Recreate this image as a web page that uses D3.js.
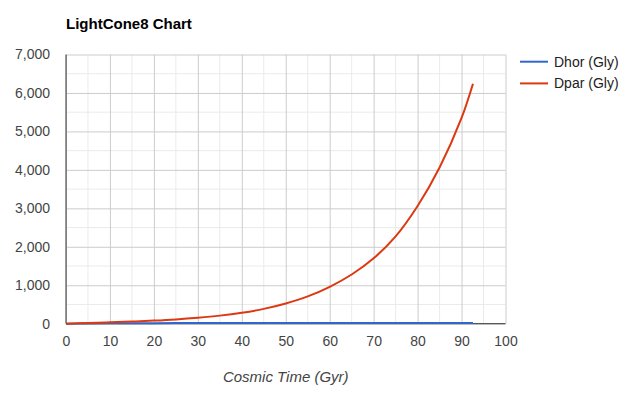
<!DOCTYPE html>
<html>
<head>
<meta charset="utf-8">
<script src="https://cdn.jsdelivr.net/npm/d3@7"></script>
<style>
  body { margin: 0; background: #fff; }
  svg { display: block; font-family: Arial, "Liberation Sans", sans-serif; }
</style>
</head>
<body>
<svg id="chart" width="629" height="397"></svg>
<script>
// données
var cosmicTime = [0, 5, 10, 15, 20, 25, 30, 35, 40, 45, 50, 55, 60, 65, 70, 75, 80, 85, 90, 92.6];
var dhor = [0, 6, 10, 12.5, 14, 15, 15.6, 16, 16.3, 16.5, 16.7, 16.8, 16.9, 17, 17, 17.1, 17.1, 17.2, 17.2, 17.2];
var dpar = [0, 16, 35, 55, 80, 112, 155, 210, 285, 385, 525, 710, 960, 1280, 1700, 2270, 3060, 4060, 5350, 6240];
var seriesNames = ["Dhor (Gly)", "Dpar (Gly)"];
var seriesColors = ["#3366cc", "#dc3912"];
var xTicks = [0, 10, 20, 30, 40, 50, 60, 70, 80, 90, 100];
var yTicks = [0, 1000, 2000, 3000, 4000, 5000, 6000, 7000];

var svg = d3.select("#chart");
var plotLeft = 66, plotRight = 505.5, plotTop = 54.5, plotBottom = 323.7;

var x = d3.scaleLinear().domain([0, 100]).range([plotLeft, plotRight]);
var y = d3.scaleLinear().domain([0, 7000]).range([plotBottom, plotTop]);

// grille secondaire
var g = svg.append("g");
d3.range(5, 100, 10).forEach(function(v) {
  g.append("line").attr("x1", x(v)).attr("x2", x(v)).attr("y1", plotTop).attr("y2", plotBottom)
   .attr("stroke", "#ebebeb").attr("stroke-width", 1);
});
d3.range(500, 7000, 1000).forEach(function(v) {
  g.append("line").attr("x1", plotLeft).attr("x2", plotRight).attr("y1", y(v)).attr("y2", y(v))
   .attr("stroke", "#ebebeb").attr("stroke-width", 1);
});

// grille principale + étiquettes
var xAxis = d3.axisBottom(x).tickValues(xTicks).tickSize(-(plotBottom - plotTop)).tickFormat(d3.format("d"));
var gx = svg.append("g").attr("transform", "translate(0," + plotBottom + ")").call(xAxis);
gx.select(".domain").remove();
gx.selectAll("line").attr("stroke", "#cccccc");
gx.selectAll("text").attr("fill", "#444").style("font-size", "14px").attr("dy", "0.71em").attr("y", 12);

var yAxis = d3.axisLeft(y).tickValues(yTicks).tickSize(-(plotRight - plotLeft)).tickPadding(16).tickFormat(d3.format(","));
var gy = svg.append("g").attr("transform", "translate(" + plotLeft + ",0)").call(yAxis);
gy.select(".domain").remove();
gy.selectAll("line").attr("stroke", "#cccccc");
gy.selectAll("text").attr("fill", "#444").style("font-size", "14px");

// axes foncés
svg.append("line").attr("x1", plotLeft).attr("x2", plotLeft).attr("y1", plotTop).attr("y2", plotBottom)
   .attr("stroke", "#333").attr("stroke-width", 1);
svg.append("line").attr("x1", plotLeft).attr("x2", plotRight).attr("y1", plotBottom).attr("y2", plotBottom)
   .attr("stroke", "#333").attr("stroke-width", 1);

// courbes
var series = [dhor, dpar];
series.forEach(function(vals, i) {
  var line = d3.line()
    .x(function(d, j) { return x(cosmicTime[j]); })
    .y(function(d) { return y(d); })
    .curve(d3.curveCatmullRom.alpha(0.5));
  svg.append("path").datum(vals)
    .attr("d", line)
    .attr("fill", "none")
    .attr("stroke", seriesColors[i])
    .attr("stroke-width", 2);
});

// titre
svg.append("text").attr("x", 66).attr("y", 28.5)
   .style("font-size", "15px").style("font-weight", "bold").attr("fill", "#000")
   .text("LightCone8 Chart");

// titre de l'axe
svg.append("text").attr("x", (plotLeft + plotRight) / 2).attr("y", 382)
   .attr("text-anchor", "middle").style("font-size", "15px").style("font-style", "italic")
   .attr("fill", "#444").text("Cosmic Time (Gyr)");

// légende
seriesNames.forEach(function(name, i) {
  var ly = 61.7 + i * 21.7;
  svg.append("line").attr("x1", 520).attr("x2", 548).attr("y1", ly).attr("y2", ly)
     .attr("stroke", seriesColors[i]).attr("stroke-width", 2);
  svg.append("text").attr("x", 554).attr("y", ly + 5)
     .style("font-size", "14px").attr("fill", "#222").text(name);
});
</script>
</body>
</html>
